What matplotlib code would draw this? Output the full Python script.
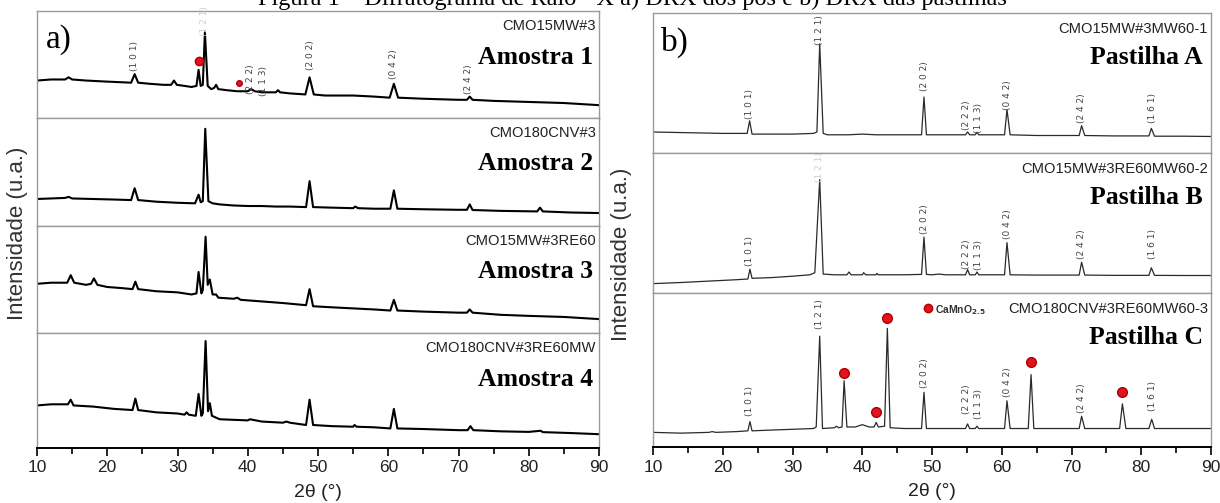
import matplotlib
matplotlib.use('Agg')
import matplotlib.pyplot as plt

# Amostras (pós) - intensidade normalizada à altura de cada quadro
a1_x = [10, 12, 14, 14.5, 15, 17, 20, 23.4, 23.9, 24.4, 26, 28, 29.1, 29.5, 29.9, 31, 32, 32.7, 33.0, 33.3,
        33.6, 33.9, 34.3, 34.8, 35.2, 35.5, 35.8, 37, 38.5, 40, 40.5, 41, 42, 44, 44.3, 44.6, 46, 48.2,
        48.8, 49.4, 51, 55, 58, 60.2, 60.8, 61.4, 65, 70, 71.2, 71.6, 72.0, 75, 80, 85, 90]
a1_y = [0.35, 0.36, 0.36, 0.38, 0.36, 0.35, 0.34, 0.33, 0.41, 0.33, 0.32, 0.31, 0.31, 0.35, 0.31, 0.30, 0.29,
        0.30, 0.45, 0.30, 0.31, 0.80, 0.30, 0.27, 0.28, 0.31, 0.27, 0.26, 0.25, 0.25, 0.27, 0.25, 0.24,
        0.24, 0.26, 0.24, 0.23, 0.22, 0.38, 0.22, 0.21, 0.21, 0.20, 0.19, 0.32, 0.19, 0.18, 0.17, 0.17,
        0.20, 0.17, 0.16, 0.15, 0.14, 0.12]

a2_x = [10, 12, 14, 14.5, 15, 18, 21, 23.4, 23.9, 24.4, 27, 30, 32.5, 33.0, 33.3, 33.6, 33.95, 34.4, 35, 36,
        38, 40, 42, 44, 46, 48.3, 48.8, 49.3, 52, 55, 55.3, 55.7, 58, 60.3, 60.8, 61.3, 65, 70, 71.2,
        71.6, 72.0, 76, 81.2, 81.6, 82, 86, 90]
a2_y = [0.25, 0.255, 0.26, 0.27, 0.255, 0.25, 0.245, 0.24, 0.35, 0.24, 0.225, 0.215, 0.21, 0.29, 0.22, 0.23,
        0.90, 0.23, 0.21, 0.20, 0.19, 0.185, 0.185, 0.18, 0.18, 0.175, 0.415, 0.175, 0.17, 0.165, 0.18,
        0.165, 0.16, 0.16, 0.33, 0.16, 0.155, 0.15, 0.15, 0.20, 0.148, 0.14, 0.135, 0.17, 0.135, 0.125, 0.12]

a3_x = [10, 12, 14.3, 14.8, 15.3, 17, 17.7, 18.1, 18.6, 20, 22, 23.6, 24.0, 24.4, 27, 30, 32, 32.7, 33.0,
        33.4, 33.6, 34.0, 34.3, 34.6, 35.0, 35.5, 35.8, 38, 38.5, 39, 41, 43, 45, 48.3, 48.8, 49.3, 52,
        55, 58, 60.3, 60.8, 61.3, 65, 70, 71.2, 71.6, 72.0, 76, 80, 85, 90]
a3_y = [0.46, 0.47, 0.47, 0.54, 0.47, 0.45, 0.46, 0.51, 0.45, 0.43, 0.42, 0.41, 0.48, 0.41, 0.39, 0.38, 0.36,
        0.37, 0.57, 0.37, 0.40, 0.90, 0.45, 0.50, 0.36, 0.36, 0.33, 0.32, 0.33, 0.31, 0.30, 0.29, 0.28,
        0.26, 0.41, 0.25, 0.24, 0.23, 0.22, 0.21, 0.31, 0.21, 0.20, 0.19, 0.19, 0.22, 0.19, 0.17, 0.16,
        0.15, 0.13]

a4_x = [10, 12, 14.4, 14.8, 15.2, 18, 21, 23.6, 24.0, 24.4, 27, 30, 31.0, 31.3, 31.6, 32.6, 33.0, 33.4, 33.6,
        34.0, 34.35, 34.6, 34.9, 36, 38, 40, 40.3, 42, 45, 45.5, 46, 48.3, 48.8, 49.3, 52, 55, 55.2, 55.5,
        58, 60.3, 60.8, 61.3, 65, 70, 71.3, 71.7, 72.1, 76, 80, 81.7, 82, 86, 90]
a4_y = [0.37, 0.38, 0.38, 0.42, 0.37, 0.36, 0.34, 0.33, 0.43, 0.33, 0.31, 0.30, 0.29, 0.31, 0.29, 0.28, 0.47,
        0.28, 0.30, 0.93, 0.32, 0.39, 0.28, 0.25, 0.245, 0.24, 0.25, 0.23, 0.22, 0.23, 0.22, 0.20, 0.42,
        0.20, 0.19, 0.185, 0.20, 0.185, 0.18, 0.17, 0.34, 0.17, 0.165, 0.155, 0.155, 0.19, 0.155, 0.145,
        0.14, 0.15, 0.138, 0.13, 0.12]

# Pastilhas
bA_x = [10, 15, 20, 23.5, 23.85, 24.2, 27, 30, 33, 33.5, 33.9, 34.4, 35, 38, 40, 42, 44, 48.5, 48.85, 49.2,
        52, 54.8, 55.1, 55.4, 56.2, 56.45, 56.7, 60.4, 60.75, 61.2, 65, 69, 71.1, 71.45, 71.9, 76, 81.1,
        81.45, 81.9, 86, 90]
bA_y = [0.15, 0.145, 0.14, 0.14, 0.23, 0.135, 0.135, 0.135, 0.14, 0.15, 0.78, 0.14, 0.13, 0.13, 0.135, 0.13,
        0.13, 0.13, 0.40, 0.13, 0.13, 0.13, 0.15, 0.13, 0.13, 0.148, 0.13, 0.13, 0.31, 0.13, 0.125, 0.125,
        0.125, 0.195, 0.125, 0.122, 0.122, 0.176, 0.12, 0.12, 0.118]

bB_x = [10, 14, 18, 22, 23.6, 23.9, 24.2, 27, 30, 32.5, 33.2, 33.9, 34.4, 36, 37.8, 38.1, 38.4, 40, 40.2,
        40.5, 42, 42.1, 42.3, 46, 48.5, 48.85, 49.2, 50, 51, 52, 54.8, 55.1, 55.4, 56.2, 56.45, 56.7, 60.4,
        60.75, 61.2, 65, 71.1, 71.45, 71.9, 76, 81.1, 81.45, 81.9, 86, 90]
bB_y = [0.067, 0.075, 0.085, 0.095, 0.10, 0.17, 0.105, 0.11, 0.12, 0.13, 0.145, 0.81, 0.135, 0.13, 0.13, 0.15,
        0.13, 0.13, 0.145, 0.13, 0.13, 0.14, 0.13, 0.13, 0.133, 0.40, 0.133, 0.13, 0.135, 0.13, 0.13,
        0.167, 0.13, 0.13, 0.15, 0.13, 0.13, 0.36, 0.13, 0.128, 0.128, 0.22, 0.128, 0.126, 0.126, 0.18,
        0.126, 0.125, 0.125]

bC_x = [10, 14, 18, 18.5, 19, 22, 23.6, 23.9, 24.2, 27, 30, 33.0, 33.4, 33.9, 34.3, 36, 36.3, 36.6, 37.1,
        37.4, 37.8, 39, 40, 41, 41.7, 42.0, 42.3, 43.2, 43.6, 44.0, 46, 48.5, 48.85, 49.2, 52, 54.8, 55.1,
        55.4, 56.2, 56.45, 56.7, 60.4, 60.75, 61.2, 63.8, 64.2, 64.6, 68, 71.1, 71.45, 71.9, 76.9, 77.3,
        77.8, 81.1, 81.5, 81.9, 86, 90]
bC_y = [0.095, 0.09, 0.095, 0.10, 0.095, 0.10, 0.105, 0.165, 0.105, 0.11, 0.115, 0.12, 0.13, 0.72, 0.12,
        0.125, 0.135, 0.125, 0.13, 0.43, 0.13, 0.13, 0.145, 0.13, 0.13, 0.16, 0.13, 0.135, 0.77, 0.125,
        0.12, 0.12, 0.355, 0.12, 0.12, 0.12, 0.15, 0.12, 0.12, 0.135, 0.12, 0.12, 0.30, 0.12, 0.12, 0.47,
        0.12, 0.12, 0.12, 0.20, 0.12, 0.12, 0.28, 0.12, 0.12, 0.18, 0.12, 0.12, 0.12]

# CaMnO2.5 (pontos vermelhos)
a1_dot_x = [33.0, 38.7]
a1_dot_y = [0.53, 0.33]
bC_dot_x = [37.4, 42.0, 43.6, 64.2, 77.3]
bC_dot_y = [0.48, 0.225, 0.835, 0.55, 0.355]

# índices de Miller
a1_hkl = ['(1 0 1)', '(1 2 1)', '(2 2 2)', '(1 1 3)', '(2 0 2)', '(0 4 2)', '(2 4 2)']
a1_hkl_x = [23.9, 33.9, 40.4, 42.2, 48.9, 60.7, 71.4]
a1_hkl_y = [0.58, 0.91, 0.36, 0.35, 0.59, 0.50, 0.36]
b_hkl = ['(1 0 1)', '(1 2 1)', '(2 0 2)', '(2 2 2)', '(1 1 3)', '(0 4 2)', '(2 4 2)', '(1 6 1)']
b_hkl_x = [23.9, 33.9, 48.9, 55.0, 56.7, 60.8, 71.5, 81.6]
bA_hkl_y = [0.35, 0.88, 0.55, 0.27, 0.25, 0.41, 0.32, 0.32]
bB_hkl_y = [0.30, 0.90, 0.53, 0.28, 0.27, 0.49, 0.35, 0.35]
bC_hkl_y = [0.30, 0.86, 0.48, 0.31, 0.28, 0.42, 0.32, 0.33]

amostras = ['CMO15MW#3', 'CMO180CNV#3', 'CMO15MW#3RE60', 'CMO180CNV#3RE60MW']
pastilhas = ['CMO15MW#3MW60-1', 'CMO15MW#3RE60MW60-2', 'CMO180CNV#3RE60MW60-3']
x_ticks = [10, 20, 30, 40, 50, 60, 70, 80, 90]

W, H = 1220, 503
SANS = ['Liberation Sans', 'DejaVu Sans']
SERIF = ['Liberation Serif', 'DejaVu Serif']

fig = plt.figure(figsize=(W / 100, H / 100), dpi=100)


def px_axes(l, t, r, b):
    return fig.add_axes([l / W, 1 - b / H, (r - l) / W, (b - t) / H])


def style_box(ax, bottom):
    ax.set_xlim(10, 90)
    ax.set_ylim(0, 1)
    ax.set_yticks([])
    for s in ax.spines.values():
        s.set_color('#9a9a9a')
        s.set_linewidth(1.0)
    if bottom:
        ax.spines['bottom'].set_color('black')
        ax.spines['bottom'].set_linewidth(1.4)
        ax.set_xticks(x_ticks)
        ax.set_xticks([15, 25, 35, 45, 55, 65, 75, 85], minor=True)
        ax.tick_params(axis='x', which='major', direction='out', length=6, width=1.2, pad=3)
        ax.tick_params(axis='x', which='minor', direction='out', length=4, width=1.2)
        for lab in ax.get_xticklabels():
            lab.set_family(SANS)
            lab.set_fontsize(12.5)
            lab.set_color('#222222')
        ax.set_xlabel('2θ (°)', family=SANS, fontsize=14, labelpad=6, color='#222222')
    else:
        ax.set_xticks([])


def labels(ax, name, sample, dy1, dy2, dx1, dx2):
    ax.annotate(name, xy=(1, 1), xycoords='axes fraction', xytext=(-dx1, -dy1),
                textcoords='offset pixels', ha='right', va='center', family=SANS,
                fontsize=10.6, color='#222222')
    ax.annotate(sample, xy=(1, 1), xycoords='axes fraction', xytext=(-dx2, -dy2),
                textcoords='offset pixels', ha='right', va='center', family=SERIF,
                fontsize=18.5, fontweight='bold')


def hkl_text(ax, xs, ys, texts, light=()):
    for x, y, t in zip(xs, ys, texts):
        c = '#cfcfcf' if t in light else '#444444'
        ax.text(x, y, t, rotation=90, ha='center', va='center', fontsize=6.5,
                color=c, family='DejaVu Sans')


# ---- painel a) ----
a_rows = [(11, 118), (118, 226), (226, 333), (333, 448)]
a_data = [(a1_x, a1_y), (a2_x, a2_y), (a3_x, a3_y), (a4_x, a4_y)]
a_axes = []
for i, ((t, b), (xs, ys)) in enumerate(zip(a_rows, a_data)):
    ax = px_axes(37, t, 599, b)
    ax.plot(xs, ys, color='black', lw=1.5)
    style_box(ax, i == 3)
    labels(ax, amostras[i], f'Amostra {i + 1}', 15, 46, 3, 6)
    a_axes.append(ax)

a_axes[0].plot(a1_dot_x[:1], a1_dot_y[:1], 'o', color='#e0141e', ms=6, mec='#b00000')
a_axes[0].plot(a1_dot_x[1:], a1_dot_y[1:], 'o', color='#e0141e', ms=4, mec='#b00000')
hkl_text(a_axes[0], a1_hkl_x, a1_hkl_y, a1_hkl, light=('(1 2 1)',))
a_axes[0].text(0.016, 0.73, 'a)', transform=a_axes[0].transAxes, family=SERIF, fontsize=24,
               ha='left', va='center')
fig.text(18 / W, 1 - 233 / H, 'Intensidade (u.a.)', rotation=90, ha='center', va='center',
         family=SANS, fontsize=16, color='#333333')

# ---- painel b) ----
b_rows = [(13, 153), (153, 293), (293, 447)]
b_data = [(bA_x, bA_y), (bB_x, bB_y), (bC_x, bC_y)]
b_hkl_y = [bA_hkl_y, bB_hkl_y, bC_hkl_y]
b_axes = []
for i, ((t, b), (xs, ys)) in enumerate(zip(b_rows, b_data)):
    ax = px_axes(653, t, 1211, b)
    ax.plot(xs, ys, color='#2a2a2a', lw=0.9)
    style_box(ax, i == 2)
    labels(ax, pastilhas[i], 'Pastilha ' + 'ABC'[i], 16, 45, 3, 8)
    hkl_text(ax, b_hkl_x, b_hkl_y[i], b_hkl, light=('(1 2 1)',) if i == 1 else ())
    b_axes.append(ax)

b_axes[2].plot(bC_dot_x, bC_dot_y, 'o', color='#e0141e', ms=7, mec='#b00000')
b_axes[2].plot([49.4], [0.90], 'o', color='#e0141e', ms=6, mec='#b00000')
b_axes[2].text(50.4, 0.89, r'CaMnO$_{\mathbf{2.5}}$', fontsize=7.5, fontweight='bold',
               ha='left', va='center', family=SANS, color='#333333')
b_axes[0].text(0.014, 0.79, 'b)', transform=b_axes[0].transAxes, family=SERIF, fontsize=24,
               ha='left', va='center')
fig.text(622 / W, 1 - 254 / H, 'Intensidade (u.a.)', rotation=90, ha='center', va='center',
         family=SANS, fontsize=16, color='#333333')

# título cortado no topo
fig.text(632 / W, 1 - 5 / H, 'Figura 1 – Difratograma de Raio - X a) DRX dos pós e b) DRX das pastilhas',
         ha='center', va='baseline', family=SERIF, fontsize=17.5)

fig.savefig('out.png', dpi=100)
